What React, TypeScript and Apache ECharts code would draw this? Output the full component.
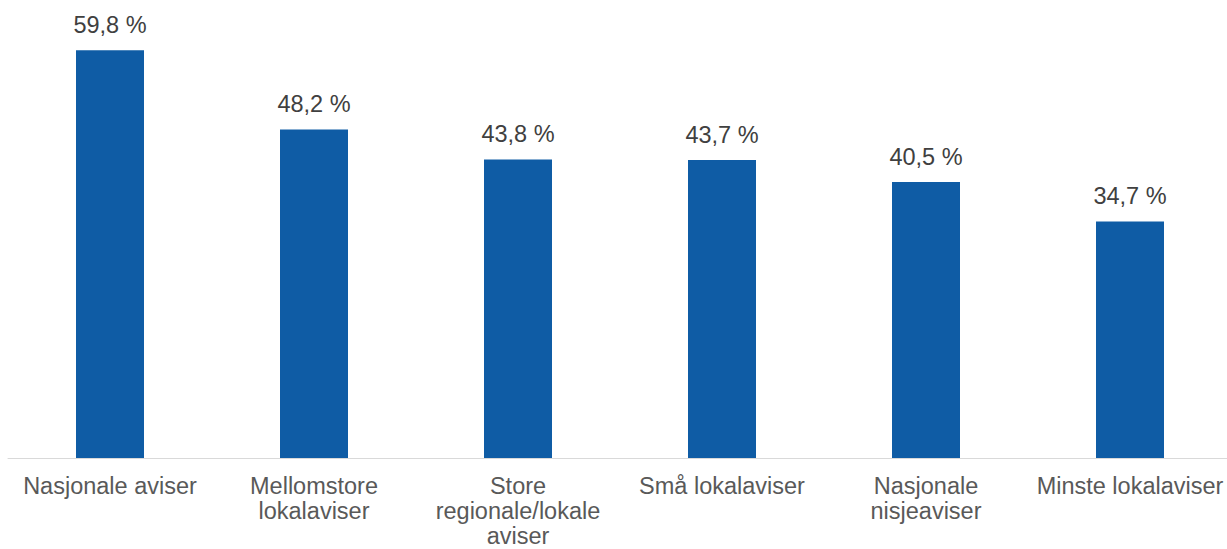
import React, { useEffect, useRef } from "react";
import * as echarts from "echarts";

const categories = [
  "Nasjonale aviser",
  "Mellomstore\nlokalaviser",
  "Store\nregionale/lokale\naviser",
  "Små lokalaviser",
  "Nasjonale\nnisjeaviser",
  "Minste lokalaviser",
];
const values = [59.8, 48.2, 43.8, 43.7, 40.5, 34.7];

export default function App() {
  const ref = useRef<HTMLDivElement>(null);
  useEffect(() => {
    if (!ref.current) return;
    const chart = echarts.init(ref.current, undefined, { renderer: "svg" });
    chart.setOption({
      animation: false,
      grid: {
        left: 8,
        right: -5,
        top: 49,
        bottom: 91,
        containLabel: false,
        outerBoundsMode: "none",
      },
      xAxis: {
        type: "category",
        data: categories,
        axisLine: { lineStyle: { color: "#d9d9d9", width: 1 } },
        axisTick: { show: false },
        axisLabel: {
          interval: 0,
          color: "#595959",
          fontFamily: "Liberation Sans, Arial, sans-serif",
          fontSize: 23.5,
          lineHeight: 25,
          margin: 15,
        },
      },
      yAxis: {
        type: "value",
        min: 0,
        max: 60,
        show: false,
        splitLine: { show: false },
      },
      series: [
        {
          type: "bar",
          data: values,
          barWidth: 68,
          itemStyle: { color: "#0f5ca5" },
          label: {
            show: true,
            position: "top",
            distance: 13,
            color: "#404040",
            fontFamily: "Liberation Sans, Arial, sans-serif",
            fontSize: 23.5,
            formatter: (p: any) => p.value.toFixed(1).replace(".", ",") + " %",
          },
        },
      ],
    });
    return () => chart.dispose();
  }, []);
  return (
    <div
      ref={ref}
      style={{ position: "fixed", left: 0, top: 0, width: 1227, height: 549, background: "#fff" }}
    />
  );
}
